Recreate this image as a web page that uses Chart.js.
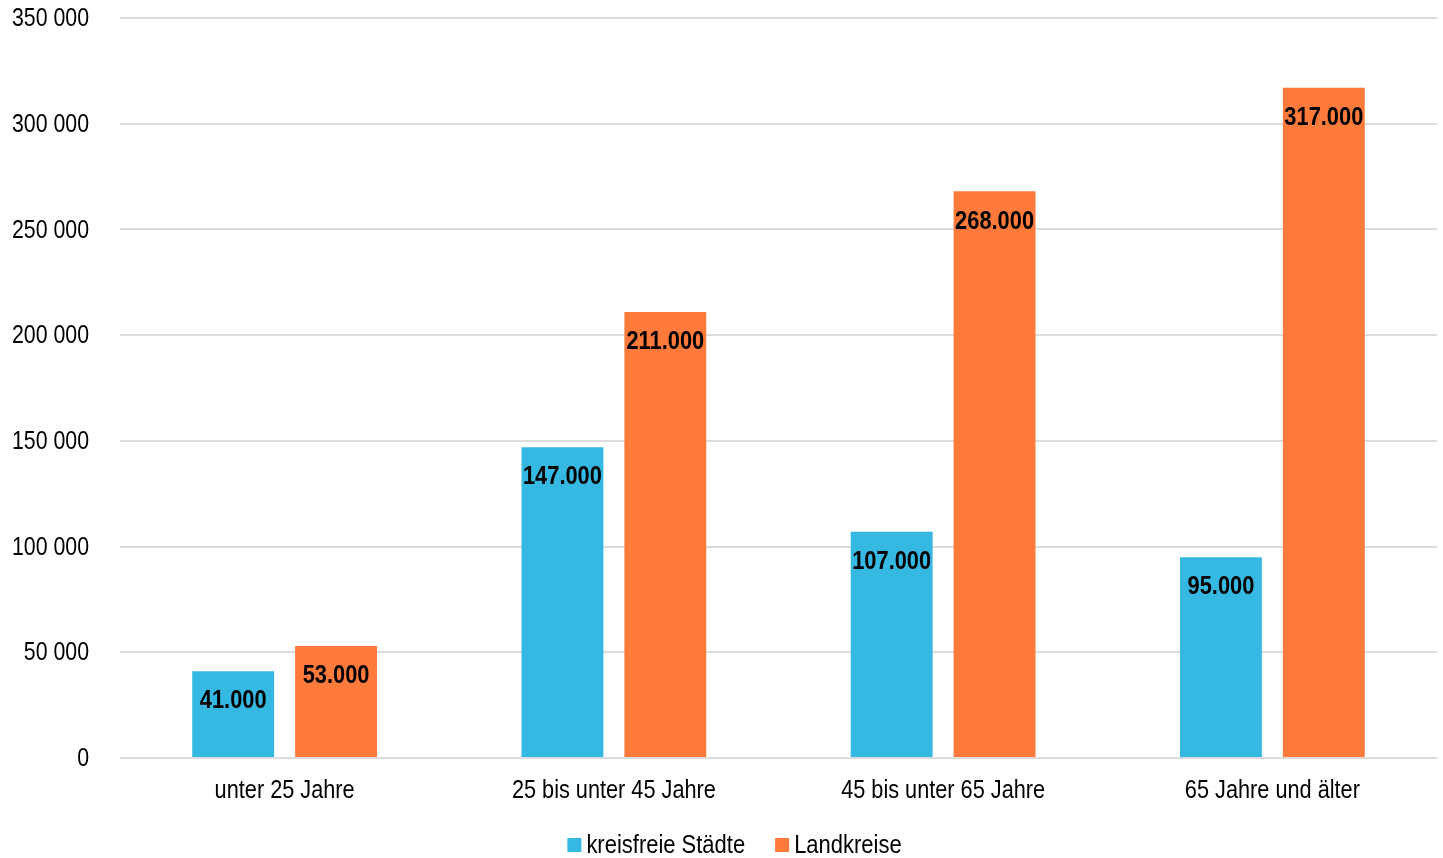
<!DOCTYPE html>
<html>
<head>
<meta charset="utf-8">
<style>
  html, body { margin: 0; padding: 0; background: #ffffff; }
  #wrap { width: 1443px; height: 858px; position: relative; }
</style>
<script src="https://cdn.jsdelivr.net/npm/chart.js@4/dist/chart.umd.min.js"></script>
</head>
<body>
<div id="wrap"><canvas id="chart" width="1443" height="858"></canvas></div>
<script>
// Age groups and counts per district type
const categories = ['unter 25 Jahre', '25 bis unter 45 Jahre', '45 bis unter 65 Jahre', '65 Jahre und älter'];
const kreisfreieStaedte = [41000, 147000, 107000, 95000];
const landkreise = [53000, 211000, 268000, 317000];
const seriesNames = ['kreisfreie Städte', 'Landkreise'];
const yTicks = [0, 50000, 100000, 150000, 200000, 250000, 300000, 350000];

const FONT = '"Liberation Sans", Arial, sans-serif';
const NARROW = 0.82; // horizontal squeeze for a narrow sans look
const BLUE = '#35B8E2';
const ORANGE = '#FF7A3B';

// "350 000" style thousands separator on the value axis
function axisFormat(v) {
  return String(v).replace(/\B(?=(\d{3})+(?!\d))/g, ' ');
}
// "147.000" style for the value labels
function labelFormat(v) {
  return String(v).replace(/\B(?=(\d{3})+(?!\d))/g, '.');
}

// Draws condensed text anchored at (x, y)
function narrowText(ctx, text, x, y, align, font, squeeze) {
  ctx.save();
  ctx.font = font;
  ctx.textAlign = align;
  ctx.textBaseline = 'middle';
  ctx.translate(x, y);
  ctx.scale(squeeze || NARROW, 1);
  ctx.fillText(text, 0, 0);
  ctx.restore();
}
function narrowWidth(ctx, text, font, squeeze) {
  ctx.save();
  ctx.font = font;
  const w = ctx.measureText(text).width * (squeeze || NARROW);
  ctx.restore();
  return w;
}

// Axis labels in condensed type, positioned from the chart's scales
const axisLabels = {
  id: 'axisLabels',
  afterDraw(chart) {
    const ctx = chart.ctx;
    const xs = chart.scales.x, ys = chart.scales.y;
    ctx.save();
    ctx.fillStyle = '#000000';
    const f = '26px ' + FONT;
    ys.ticks.forEach((t, i) => {
      narrowText(ctx, axisFormat(t.value), 89, ys.getPixelForTick(i) + 1, 'right', f);
    });
    xs.ticks.forEach((t, i) => {
      narrowText(ctx, categories[t.value], xs.getPixelForTick(i), xs.top + 33, 'center', f, 0.835);
    });
    ctx.restore();
  }
};

// Bold value labels placed inside the top of each bar
const valueLabels = {
  id: 'valueLabels',
  afterDatasetsDraw(chart) {
    const ctx = chart.ctx;
    ctx.save();
    ctx.fillStyle = '#000000';
    chart.data.datasets.forEach((ds, i) => {
      const meta = chart.getDatasetMeta(i);
      meta.data.forEach((bar, j) => {
        narrowText(ctx, labelFormat(ds.data[j]), bar.x, bar.y + 30, 'center', 'bold 26px ' + FONT, 0.84);
      });
    });
    ctx.restore();
  }
};

// Compact legend under the axis labels
const bottomLegend = {
  id: 'bottomLegend',
  afterDraw(chart) {
    const ctx = chart.ctx;
    const f = '26px ' + FONT;
    const sq = 0.845;
    const box = 14, gap = 5, itemGap = 30;
    const items = chart.data.datasets.map(ds => ({ text: ds.label, color: ds.backgroundColor }));
    const widths = items.map(it => box + gap + narrowWidth(ctx, it.text, f, sq));
    const total = widths.reduce((a, b) => a + b, 0) + itemGap * (items.length - 1);
    let x = chart.width / 2 + 13 - total / 2;
    const y = 845;
    ctx.save();
    items.forEach((it, i) => {
      ctx.fillStyle = it.color;
      ctx.fillRect(x, y - box / 2, box, box);
      ctx.fillStyle = '#000000';
      narrowText(ctx, it.text, x + box + gap, y + 1, 'left', f, sq);
      x += widths[i] + itemGap;
    });
    ctx.restore();
  }
};

new Chart(document.getElementById('chart'), {
  type: 'bar',
  data: {
    labels: categories,
    datasets: [
      { label: seriesNames[0], data: kreisfreieStaedte, backgroundColor: BLUE },
      { label: seriesNames[1], data: landkreise, backgroundColor: ORANGE }
    ]
  },
  options: {
    responsive: false,
    animation: false,
    devicePixelRatio: 1,
    layout: { padding: { top: 18, right: 6, bottom: 40, left: 0 } },
    categoryPercentage: 0.625,
    barPercentage: 0.796,
    plugins: {
      legend: { display: false },
      tooltip: { enabled: false }
    },
    scales: {
      x: {
        grid: { display: false, drawTicks: false },
        border: { display: false },
        ticks: { display: false },
        afterFit(scale) { scale.height = 60; }
      },
      y: {
        min: 0,
        max: 350000,
        afterBuildTicks(scale) { scale.ticks = yTicks.map(v => ({ value: v })); },
        grid: { color: '#DCDCDC', lineWidth: 2, drawTicks: false },
        border: { display: false },
        ticks: { display: false },
        afterFit(scale) { scale.width = 120; }
      }
    }
  },
  plugins: [valueLabels, axisLabels, bottomLegend]
});
</script>
</body>
</html>
